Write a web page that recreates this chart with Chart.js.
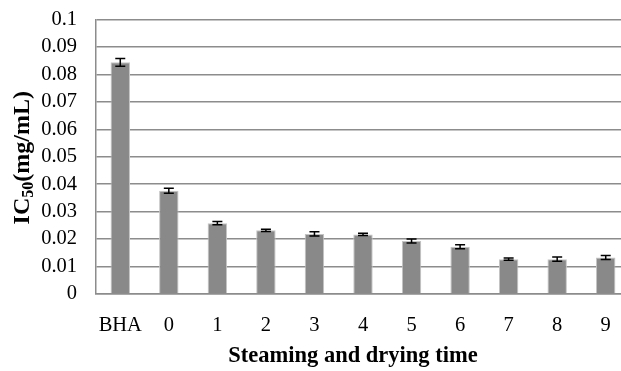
<!DOCTYPE html>
<html>
<head>
<meta charset="utf-8">
<script src="https://cdn.jsdelivr.net/npm/chart.js@4/dist/chart.umd.min.js"></script>
<style>
html,body{margin:0;padding:0;background:#fff;overflow:hidden;width:621px;height:371px;}
canvas{position:absolute;left:0;top:0;}
</style>
</head>
<body>
<canvas id="c" width="631" height="371"></canvas>
<script>
const categories = ['BHA','0','1','2','3','4','5','6','7','8','9'];
const ic50Values = [0.0844,0.0376,0.0258,0.0232,0.0219,0.0217,0.0193,0.0172,0.0127,0.0127,0.0133];
const ic50Errors = [0.0014,0.0009,0.0006,0.0004,0.0008,0.0004,0.0007,0.0007,0.0004,0.0008,0.0007];
const yTickLabels = ['0','0.01','0.02','0.03','0.04','0.05','0.06','0.07','0.08','0.09','0.1'];
const xTitle = 'Steaming and drying time';

const serif = '"Liberation Serif", "Times New Roman", serif';

const errorBars = {
  id: 'errorBars',
  afterDatasetsDraw(chart) {
    const ctx = chart.ctx;
    const meta = chart.getDatasetMeta(0);
    const y = chart.scales.y;
    ctx.save();
    ctx.strokeStyle = '#000';
    ctx.lineWidth = 1.5;
    meta.data.forEach((bar, i) => {
      const v = ic50Values[i], e = ic50Errors[i];
      const yt = y.getPixelForValue(v + e);
      const yb = y.getPixelForValue(v - e);
      const x = bar.x;
      const hw = 5;
      ctx.beginPath();
      ctx.moveTo(x, yt); ctx.lineTo(x, yb);
      ctx.moveTo(x - hw, yt); ctx.lineTo(x + hw, yt);
      ctx.moveTo(x - hw, yb); ctx.lineTo(x + hw, yb);
      ctx.stroke();
    });
    ctx.restore();
  }
};

const titles = {
  id: 'titles',
  afterDraw(chart) {
    const ctx = chart.ctx;
    const a = chart.chartArea;
    ctx.save();
    ctx.fillStyle = '#000';
    // x title
    ctx.font = 'bold 22.5px ' + serif;
    ctx.textAlign = 'center';
    ctx.textBaseline = 'middle';
    ctx.fillText(xTitle, a.left + 257, 356);
    // y title with subscript
    const big = 'bold 24px ' + serif;
    const small = 'bold 16px ' + serif;
    ctx.translate(23, (a.top + a.bottom) / 2 + 1);
    ctx.rotate(-Math.PI / 2);
    ctx.textAlign = 'left';
    ctx.textBaseline = 'middle';
    ctx.font = big; const w1 = ctx.measureText('IC').width;
    ctx.font = small; const w2 = ctx.measureText('50').width;
    ctx.font = big; const w3 = ctx.measureText('(mg/mL)').width;
    let x = -(w1 + w2 + w3) / 2;
    ctx.font = big; ctx.fillText('IC', x, 0); x += w1;
    ctx.font = small; ctx.fillText('50', x, 6); x += w2;
    ctx.font = big; ctx.fillText('(mg/mL)', x, 0);
    ctx.restore();
  }
};

new Chart(document.getElementById('c'), {
  type: 'bar',
  data: {
    labels: categories,
    datasets: [{
      data: ic50Values,
      backgroundColor: '#898989',
      borderColor: '#c4c4c4',
      borderWidth: 1,
      categoryPercentage: 1,
      barPercentage: 0.4
    }]
  },
  options: {
    responsive: false,
    animation: false,
    events: [],
    layout: { autoPadding: false, padding: { top: 19.5, right: 1, left: 0, bottom: 0 } },
    plugins: { legend: { display: false }, tooltip: { enabled: false }, title: { display: false } },
    scales: {
      x: {
        grid: { display: false, drawTicks: false },
        border: { display: true, color: '#8c8c8c', width: 1.5 },
        ticks: { color: '#000', font: { family: serif, size: 20.5 }, padding: 19, maxRotation: 0, autoSkip: false },
        afterFit(s) { s.height = 77; s.paddingLeft = 0; s.paddingRight = 0; }
      },
      y: {
        min: 0, max: 0.1,
        grid: { color: '#8c8c8c', lineWidth: 1.5, drawTicks: false },
        border: { display: true, color: '#8c8c8c', width: 1.5 },
        ticks: {
          stepSize: 0.01,
          autoSkip: false,
          color: '#000',
          font: { family: serif, size: 20.5, lineHeight: 1 },
          padding: 19,
          callback: (v, i) => yTickLabels[i]
        },
        afterFit(s) { s.width = 96; s.paddingTop = 0; s.paddingBottom = 0; }
      }
    }
  },
  plugins: [errorBars, titles]
});
</script>
</body>
</html>
